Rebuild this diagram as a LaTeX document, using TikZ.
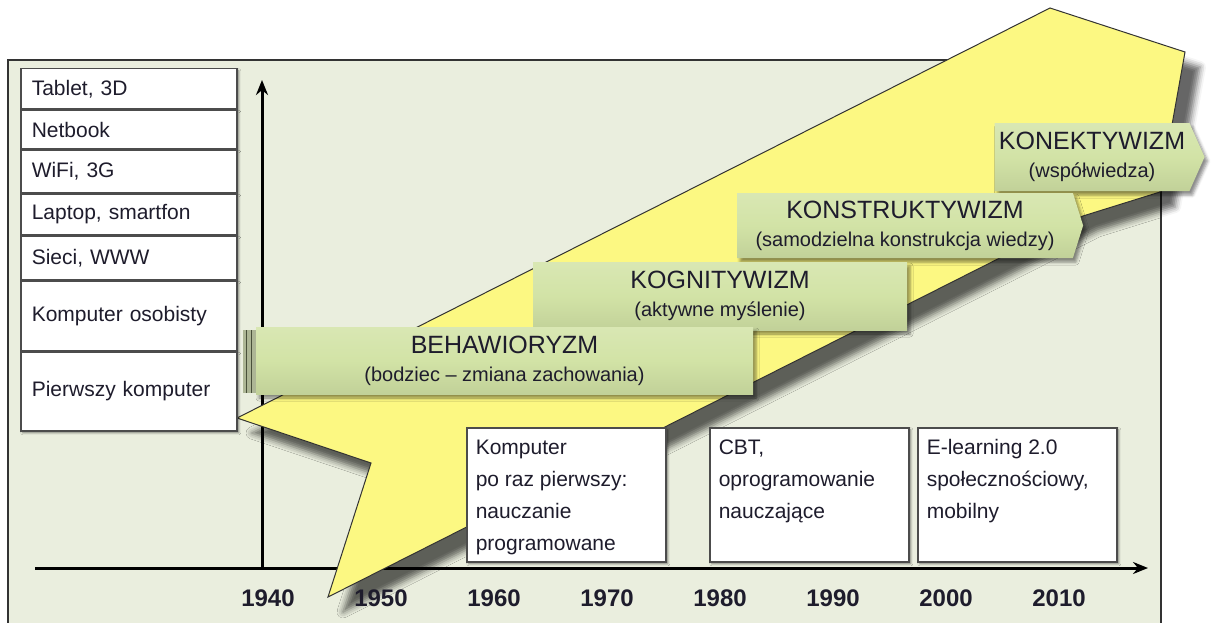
\documentclass[tikz,border=0pt]{standalone}
\usepackage{fontspec}
\setmainfont{Liberation Sans}
\usetikzlibrary{positioning, arrows.meta, shapes.symbols, shadows.blur}
\definecolor{panelbg}{RGB}{234,238,222}
\definecolor{bandyellow}{RGB}{252,248,130}
\definecolor{bargreen}{RGB}{210,227,166}
\definecolor{inkdark}{RGB}{30,28,44}
\newcommand{\evtext}[1]{\parbox[t][110pt][t]{181pt}{\raggedright #1}}
\newcommand{\subt}[1]{{\fontsize{20}{24}\selectfont #1}}
\tikzset{
  techbox/.style={draw=black!70, line width=1.5pt, fill=white, minimum width=216pt,
    text width=194pt, inner xsep=11pt, align=left, text=inkdark,
    font=\fontsize{21}{24}\selectfont,
    blur shadow={shadow xshift=2pt, shadow yshift=-2pt, shadow blur radius=2pt, shadow opacity=50}},
  eventbox/.style={draw=black!70, line width=1.5pt, fill=white, anchor=north west,
    inner xsep=9pt, inner ysep=12pt, text=inkdark, font=\fontsize{21}{32}\selectfont,
    blur shadow={shadow xshift=2pt, shadow yshift=-2pt, shadow blur radius=2pt, shadow opacity=50}},
  bar/.style={top color=bargreen!85!white, bottom color=bargreen!92!black, middle color=bargreen,
    draw=none, outer sep=0pt, align=center, text=inkdark, font=\fontsize{25}{28}\selectfont,
    blur shadow={shadow xshift=3pt, shadow yshift=-4pt, shadow blur radius=3pt, shadow opacity=45}},
  arrowbar/.style={bar, shape=signal, signal to=east, signal from=nowhere},
  year/.style={font=\bfseries\fontsize{24}{26}\selectfont, text=inkdark},
  axis/.style={line width=3pt, black, -{Stealth[length=15pt, width=12pt]}},
  band/.style={fill=bandyellow, draw=black!80, line width=1pt,
    blur shadow={shadow xshift=15pt, shadow yshift=-15pt, shadow blur radius=6pt, shadow opacity=60}}
}

\begin{document}
\begin{tikzpicture}[x=1pt, y=-1pt]
    \useasboundingbox (0,0) rectangle (1214,623);
    \filldraw[fill=panelbg, draw=black!80, line width=1.5pt] (8,60) rectangle (1161,640);

    % axes
    \coordinate (xstart) at (35,568);
    \coordinate (xend) at (1148,568);
    \coordinate (ybase) at (262,568);
    \coordinate (ytop) at (262,80);
    \draw[axis] (xstart) -- (xend);
    \draw[axis] (ybase) -- (ytop);

    % the big yellow arrow
    \path[band] (237,418) -- (1050,8) -- (1185,52) -- (1160,192) -- (1083,216)
        -- (328,597) -- (371,463) -- cycle;

    \foreach \yr/\x in {1940/268, 1950/381, 1960/494, 1970/607, 1980/720, 1990/833, 2000/946, 2010/1059}
        \node[year] (y\yr) at (\x,598) {\yr};

    % technologies
    \node[techbox, minimum height=40pt, anchor=north west] (tablet) at (20,68) {Tablet, 3D};
    \node[techbox, minimum height=38.5pt, below=0pt of tablet] (netbook) {Netbook};
    \node[techbox, minimum height=42.5pt, below=0pt of netbook] (wifi) {WiFi, 3G};
    \node[techbox, minimum height=40.5pt, below=0pt of wifi] (laptop) {Laptop, smartfon};
    \node[techbox, minimum height=43.5pt, below=0pt of laptop] (sieci) {Sieci, WWW};
    \node[techbox, minimum height=69.5pt, below=0pt of sieci] (osobisty) {Komputer osobisty};
    \node[techbox, minimum height=78.5pt, below=0pt of osobisty] (pierwszy) {Pierwszy komputer};

    % e-learning stages
    \node[eventbox] (programowane) at (466,427) {\evtext{Komputer\\po raz pierwszy:\\nauczanie\\programowane}};
    \node[eventbox] (cbt) at (709,427) {\evtext{CBT,\\oprogramowanie\\nauczające}};
    \node[eventbox] (elearning) at (917,427) {\evtext{E-learning 2.0\\społecznościowy,\\mobilny}};

    % theories
    \node[arrowbar, minimum width=210pt, minimum height=68pt, signal pointer angle=132] (konekt) at (1092,157)
        {KONEKTYWIZM\\\subt{(współwiedza)}};
    \node[arrowbar, minimum width=346pt, minimum height=65pt, signal pointer angle=145] (konstr) at (905,225.5)
        {KONSTRUKTYWIZM\\\subt{(samodzielna konstrukcja wiedzy)}};
    \node[bar, minimum width=374pt, minimum height=68pt, anchor=north west] (kogn) at (533,262)
        {KOGNITYWIZM\\\subt{(aktywne myślenie)}};
    \fill[bargreen!55!gray] (243,330) rectangle (256,393);
    \draw[bargreen!35!black, line width=1.2pt] (246.5,330) -- (246.5,393) (251.5,330) -- (251.5,393);
    \node[bar, minimum width=497pt, minimum height=67pt, anchor=north west] (behaw) at (256,327)
        {BEHAWIORYZM\\\subt{(bodziec – zmiana zachowania)}};
\end{tikzpicture}
\end{document}
